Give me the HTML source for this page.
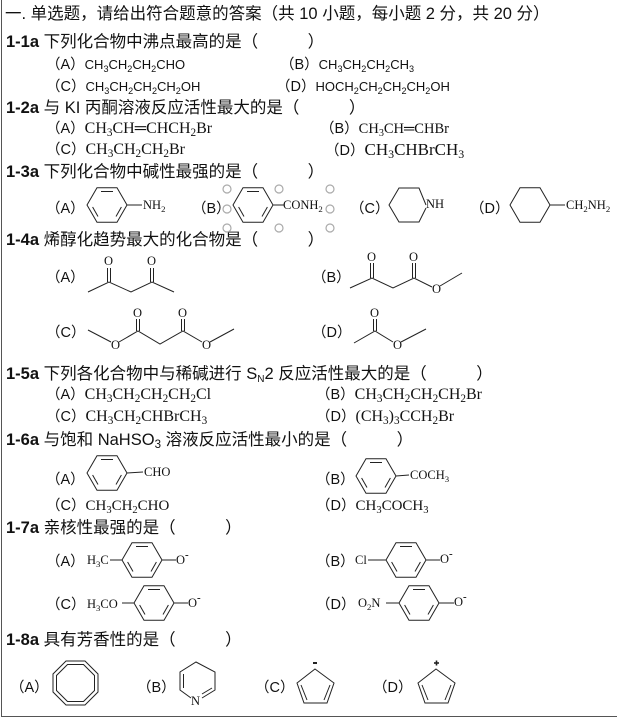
<!DOCTYPE html>
<html><head><meta charset="utf-8"><style>
body{margin:0;width:617px;height:718px;background:#fff;position:relative;overflow:hidden;font-family:"Liberation Sans","Noto Sans CJK SC",sans-serif;color:#111}
.t{position:absolute;white-space:nowrap;line-height:18px;font-size:15px}
.h{font-size:16.5px}
.b{font-weight:bold}
.o{font-size:14.5px}
.s{font-family:"Liberation Serif","Noto Serif CJK SC",serif;font-size:16px}
.ss{font-family:"Liberation Serif",serif;font-size:12.5px}
.f{font-size:13px}
sub{font-size:70%;vertical-align:-3px;line-height:0}
svg{position:absolute;left:0;top:0}
</style></head><body>
<div style="position:absolute;left:1px;top:0;width:1px;height:717px;background:#555"></div>
<div style="position:absolute;left:1px;top:716px;width:616px;height:1px;background:#555"></div>

<div class="t h" style="left:5px;top:5px">一. 单选题，请给出符合题意的答案（共 10 小题，每小题 2 分，共 20 分）</div>
<div class="t h" style="left:6px;top:33px"><span class="b">1-1a</span> 下列化合物中沸点最高的是（　　　）</div>
<div class="t o" style="left:46px;top:56px">（A）<span class="f">CH<sub>3</sub>CH<sub>2</sub>CH<sub>2</sub>CHO</span></div>
<div class="t o" style="left:280px;top:56px">（B）<span class="f">CH<sub>3</sub>CH<sub>2</sub>CH<sub>2</sub>CH<sub>3</sub></span></div>
<div class="t o" style="left:46px;top:78px">（C）<span class="f">CH<sub>3</sub>CH<sub>2</sub>CH<sub>2</sub>CH<sub>2</sub>OH</span></div>
<div class="t o" style="left:276px;top:78px">（D）<span class="f">HOCH<sub>2</sub>CH<sub>2</sub>CH<sub>2</sub>CH<sub>2</sub>OH</span></div>
<div class="t h" style="left:6px;top:99px"><span class="b">1-2a</span> 与 KI 丙酮溶液反应活性最大的是（　　　）</div>
<div class="t o" style="left:46px;top:120px">（A）<span class="s">CH<sub>3</sub>CH═CHCH<sub>2</sub>Br</span></div>
<div class="t o" style="left:320px;top:120px">（B）<span class="s" style="font-size:14.5px">CH<sub>3</sub>CH═CHBr</span></div>
<div class="t o" style="left:46px;top:141px">（C）<span class="s">CH<sub>3</sub>CH<sub>2</sub>CH<sub>2</sub>Br</span></div>
<div class="t o" style="left:325px;top:141px">（D）<span class="s" style="font-size:17px">CH<sub>3</sub>CHBrCH<sub>3</sub></span></div>
<div class="t h" style="left:6px;top:163px"><span class="b">1-3a</span> 下列化合物中碱性最强的是（　　　）</div>
<div class="t o" style="left:46px;top:200px">（A）</div>
<div class="t ss" style="left:143px;top:196px">NH<sub>2</sub></div>
<div class="t o" style="left:192px;top:200px">（B）</div>
<div class="t ss" style="left:283px;top:196px">CONH<sub>2</sub></div>
<div class="t o" style="left:350px;top:200px">（C）</div>
<div class="t ss" style="left:426px;top:195px">NH</div>
<div class="t o" style="left:470px;top:200px">（D）</div>
<div class="t ss" style="left:566px;top:196px">CH<sub>2</sub>NH<sub>2</sub></div>
<div class="t h" style="left:6px;top:231px"><span class="b">1-4a</span> 烯醇化趋势最大的化合物是（　　　）</div>
<div class="t o" style="left:46px;top:269px">（A）</div>
<div class="t o" style="left:312px;top:269px">（B）</div>
<div class="t o" style="left:46px;top:324px">（C）</div>
<div class="t o" style="left:312px;top:324px">（D）</div>
<div class="t h" style="left:6px;top:365px"><span class="b">1-5a</span> 下列各化合物中与稀碱进行 S<sub style="font-size:10px">N</sub>2 反应活性最大的是（　　　）</div>
<div class="t o" style="left:46px;top:386px">（A）<span class="s">CH<sub>3</sub>CH<sub>2</sub>CH<sub>2</sub>CH<sub>2</sub>Cl</span></div>
<div class="t o" style="left:316px;top:386px">（B）<span class="s">CH<sub>3</sub>CH<sub>2</sub>CH<sub>2</sub>CH<sub>2</sub>Br</span></div>
<div class="t o" style="left:46px;top:408px">（C）<span class="s">CH<sub>3</sub>CH<sub>2</sub>CHBrCH<sub>3</sub></span></div>
<div class="t o" style="left:316px;top:408px">（D）<span class="s">(CH<sub>3</sub>)<sub>3</sub>CCH<sub>2</sub>Br</span></div>
<div class="t h" style="left:6px;top:431px"><span class="b">1-6a</span> 与饱和 NaHSO<sub>3</sub> 溶液反应活性最小的是（　　　）</div>
<div class="t o" style="left:46px;top:471px">（A）</div>
<div class="t ss" style="left:144px;top:463px">CHO</div>
<div class="t o" style="left:316px;top:471px">（B）</div>
<div class="t ss" style="left:410px;top:466px">COCH<sub>3</sub></div>
<div class="t o" style="left:46px;top:497px">（C）<span class="s" style="font-size:15px">CH<sub>3</sub>CH<sub>2</sub>CHO</span></div>
<div class="t o" style="left:316px;top:497px">（D）<span class="s" style="font-size:15px">CH<sub>3</sub>COCH<sub>3</sub></span></div>
<div class="t h" style="left:6px;top:519px"><span class="b">1-7a</span> 亲核性最强的是（　　　）</div>
<div class="t o" style="left:46px;top:553px">（A）</div>
<div class="t ss" style="left:87px;top:551px">H<sub>3</sub>C</div>
<div class="t ss" style="left:176px;top:551px">O<sup style="font-size:11px;vertical-align:6px;line-height:0;font-weight:bold">-</sup></div>
<div class="t o" style="left:316px;top:553px">（B）</div>
<div class="t ss" style="left:355px;top:551px">Cl</div>
<div class="t ss" style="left:440px;top:550px">O<sup style="font-size:11px;vertical-align:6px;line-height:0;font-weight:bold">-</sup></div>
<div class="t o" style="left:46px;top:596px">（C）</div>
<div class="t ss" style="left:87px;top:595px">H<sub>3</sub>CO</div>
<div class="t ss" style="left:188px;top:594px">O<sup style="font-size:11px;vertical-align:6px;line-height:0;font-weight:bold">-</sup></div>
<div class="t o" style="left:316px;top:596px">（D）</div>
<div class="t ss" style="left:358px;top:594px">O<sub>2</sub>N</div>
<div class="t ss" style="left:454px;top:593px">O<sup style="font-size:11px;vertical-align:6px;line-height:0;font-weight:bold">-</sup></div>
<div class="t h" style="left:6px;top:631px"><span class="b">1-8a</span> 具有芳香性的是（　　　）</div>
<div class="t o" style="left:10px;top:679px">（A）</div>
<div class="t o" style="left:137px;top:679px">（B）</div>
<div class="t o" style="left:255px;top:679px">（C）</div>
<div class="t o" style="left:373px;top:679px">（D）</div>

<svg width="617" height="718" viewBox="0 0 617 718" fill="none" stroke="#222" stroke-width="1">
<defs>
<g id="hex"><polygon points="20,0 10,17.3 -10,17.3 -20,0 -10,-17.3 10,-17.3"/></g>
<g id="bz"><use href="#hex"/><line x1="-6" y1="-13.5" x2="6" y2="-13.5"/><line x1="14.4" y1="2" x2="9" y2="11.5"/><line x1="-14.4" y1="2" x2="-9" y2="11.5"/></g>
</defs>
<use href="#bz" x="107" y="205"/><line x1="127" y1="205" x2="142" y2="205"/>
<use href="#bz" x="253" y="205"/><line x1="273" y1="205" x2="284" y2="205"/>
<polyline points="426,205 419,188 399,188 389,205 399,222 419,222 426,208"/>
<use href="#hex" x="530" y="205"/><line x1="550" y1="205" x2="565" y2="205"/>
<g stroke="#aaa" stroke-width="1.2">
<circle cx="227" cy="189" r="4"/><circle cx="279" cy="189" r="4"/><circle cx="330" cy="189" r="4"/>
<circle cx="227" cy="209" r="4"/><circle cx="330" cy="209" r="4"/>
<circle cx="227" cy="228" r="4"/><circle cx="279" cy="228" r="4"/><circle cx="330" cy="228" r="4"/></g>
<polyline points="88,292 109,282 131,292 152,282 174,292"/>
<line x1="107.5" y1="282" x2="107.5" y2="268"/><line x1="110.5" y1="282" x2="110.5" y2="268"/>
<line x1="150.5" y1="282" x2="150.5" y2="268"/><line x1="153.5" y1="282" x2="153.5" y2="268"/>
<polyline points="350,288 372,278 393,288 414,278 432,287"/><line x1="440" y1="286" x2="462" y2="273"/>
<line x1="370.5" y1="278" x2="370.5" y2="263"/><line x1="373.5" y1="278" x2="373.5" y2="263"/>
<line x1="412.5" y1="278" x2="412.5" y2="263"/><line x1="415.5" y1="278" x2="415.5" y2="263"/>
<polyline points="88,330 111,342"/><polyline points="119,342 138,331 160,344 183,331 202,342"/><line x1="210" y1="342" x2="234" y2="329"/>
<line x1="136.5" y1="331" x2="136.5" y2="319"/><line x1="139.5" y1="331" x2="139.5" y2="319"/>
<line x1="181.5" y1="331" x2="181.5" y2="319"/><line x1="184.5" y1="331" x2="184.5" y2="319"/>
<polyline points="354,343 375,331 393,342"/><line x1="401" y1="342" x2="426" y2="329"/>
<line x1="373.5" y1="331" x2="373.5" y2="319"/><line x1="376.5" y1="331" x2="376.5" y2="319"/>
<use href="#bz" x="107" y="473"/><line x1="127" y1="473" x2="143" y2="472"/>
<use href="#bz" x="376" y="476"/><line x1="396" y1="476" x2="409" y2="475"/>
<use href="#bz" x="142" y="560"/><line x1="110" y1="560" x2="122" y2="560"/><line x1="162" y1="560" x2="176" y2="560"/>
<use href="#bz" x="406" y="560"/><line x1="368" y1="560" x2="386" y2="560"/><line x1="426" y1="560" x2="440" y2="560"/>
<use href="#bz" x="154" y="603"/><line x1="122" y1="603" x2="134" y2="603"/><line x1="174" y1="603" x2="188" y2="603"/>
<use href="#bz" x="419" y="603"/><line x1="386" y1="603" x2="399" y2="603"/><line x1="439" y1="603" x2="454" y2="603"/>
<polygon points="66,661 85,661 98,674 98,692 85,705 66,705 53,692 53,674"/>
<polygon points="67.5,664.5 83.5,664.5 94.5,675.5 94.5,690.5 83.5,701.5 67.5,701.5 56.5,690.5 56.5,675.5"/>
<polyline points="191,698 180,690 180,672 196,662 215,672 215,690 202,698"/>
<line x1="183.5" y1="674" x2="183.5" y2="688"/><line x1="212" y1="688" x2="202" y2="694"/>
<polygon points="315,669 334,683 327,703 304,703 297,683"/>
<line x1="301" y1="685" x2="307" y2="700"/><line x1="330" y1="685" x2="324" y2="700"/>
<polygon points="436,669 455,683 448,703 425,703 418,683"/>
<line x1="422" y1="685" x2="428" y2="700"/><line x1="451" y1="685" x2="445" y2="700"/>
<line x1="313" y1="663" x2="317" y2="663" stroke-width="2"/>
<line x1="434" y1="663" x2="439" y2="663" stroke-width="1.6"/><line x1="436.5" y1="660.5" x2="436.5" y2="665.5" stroke-width="1.6"/>
</svg>
<div class="t ss" style="left:104px;top:252px">O</div>
<div class="t ss" style="left:147px;top:252px">O</div>
<div class="t ss" style="left:367px;top:248px">O</div>
<div class="t ss" style="left:409px;top:248px">O</div>
<div class="t ss" style="left:432px;top:280px">O</div>
<div class="t ss" style="left:133px;top:304px">O</div>
<div class="t ss" style="left:178px;top:304px">O</div>
<div class="t ss" style="left:111px;top:336px">O</div>
<div class="t ss" style="left:202px;top:336px">O</div>
<div class="t ss" style="left:370px;top:304px">O</div>
<div class="t ss" style="left:393px;top:336px">O</div>
<div class="t ss" style="left:191px;top:692px">N</div>
</body></html>
